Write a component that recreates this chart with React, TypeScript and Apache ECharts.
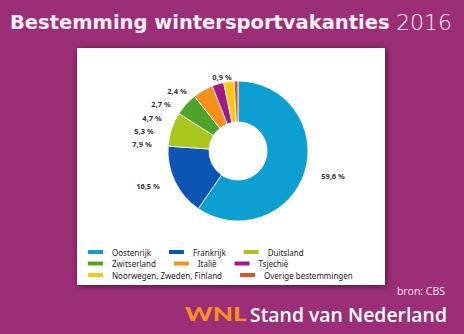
import React, { useEffect, useRef } from "react";
import * as echarts from "echarts";

const categories = [
  "Oostenrijk",
  "Frankrijk",
  "Duitsland",
  "Zwitserland",
  "Italië",
  "Tsjechië",
  "Noorwegen, Zweden, Finland",
  "Overige bestemmingen",
];
const values = [59.6, 16.5, 7.9, 5.3, 4.7, 2.7, 2.4, 0.9];
const colors = [
  "#0d9fd1",
  "#0c55b4",
  "#a9c61c",
  "#4ea32b",
  "#f4911a",
  "#a11a85",
  "#fdc514",
  "#e4521f",
];
const legendRows = [
  ["Oostenrijk", "Frankrijk", "Duitsland"],
  ["Zwitserland", "Italië", "Tsjechië"],
  ["Noorwegen, Zweden, Finland", "Overige bestemmingen"],
];
const titleText = "Bestemming wintersportvakanties";
const titleYear = "2016";
const sourceText = "bron: CBS";
const brandText = "Stand van Nederland";
const logoText = "WNL";

// label anchor points (layout, not data)
const labelAnchors: [number, number][] = [
  [333, 176],
  [148, 186],
  [142, 144],
  [144, 131],
  [152, 118],
  [161, 104],
  [177, 91],
  [222, 77],
];

export default function App() {
  const ref = useRef<HTMLDivElement>(null);
  useEffect(() => {
    if (!ref.current) return;
    const chart = echarts.init(ref.current, undefined, { renderer: "svg" });
    const legendTops = [248, 259.5, 271];
    chart.setOption({
      animation: false,
      backgroundColor: "#9b2e76",
      graphic: [
        {
          type: "rect",
          shape: { x: 77, y: 48, width: 308, height: 237 },
          style: {
            fill: "#ffffff",
            shadowBlur: 6,
            shadowColor: "rgba(0,0,0,0.55)",
            shadowOffsetX: 1,
            shadowOffsetY: 1,
          },
          z: -1,
        },
        {
          type: "text",
          x: 10,
          y: 22,
          style: {
            text: titleText,
            fontFamily: "DejaVu Sans",
            fontWeight: "bold",
            fontSize: 19.5,
            fill: "#f8f0f5",
            verticalAlign: "middle",
          },
        },
        {
          type: "text",
          x: 452,
          y: 22,
          style: {
            text: titleYear,
            fontFamily: "DejaVu Sans",
            fontWeight: 200,
            fontSize: 22,
            fill: "#f8f0f5",
            align: "right",
            verticalAlign: "middle",
          },
        },
        {
          type: "text",
          x: 445,
          y: 291,
          style: {
            text: sourceText,
            fontFamily: "Open Sans",
            fontSize: 10.5,
            fill: "#f3e6ee",
            align: "right",
            verticalAlign: "middle",
          },
        },
        {
          type: "text",
          x: 250,
          y: 314,
          style: {
            text: brandText,
            fontFamily: "Open Sans",
            fontWeight: 600,
            fontSize: 19.4,
            fill: "#ffffff",
            verticalAlign: "middle",
          },
        },
        {
          type: "text",
          x: 185,
          y: 314,
          scaleX: 1.38,
          style: {
            text: logoText,
            fontFamily: "Lato",
            fontWeight: 900,
            fontSize: 19,
            fill: "#f7901c",
            verticalAlign: "middle",
          },
        },
      ],
      color: colors,
      legend: legendRows.map((row, i) => ({
        data: row,
        left: 86,
        top: legendTops[i],
        orient: "horizontal",
        itemWidth: 17,
        itemHeight: 6,
        itemGap: 16,
        padding: 0,
        icon: "rect",
        selectedMode: false,
        textStyle: {
          fontFamily: "Noto Sans",
          fontSize: 8,
          color: "#222222",
          padding: [0, 0, 0, 3],
        },
      })),
      series: [
        {
          type: "pie",
          center: [238, 151],
          radius: [29, 70],
          startAngle: 90,
          clockwise: true,
          itemStyle: { borderColor: "#ffffff", borderWidth: 0.8 },
          label: {
            show: true,
            position: "outside",
            formatter: (p: any) => `${p.value.toFixed(1).replace(".", ",")} %`,
            fontFamily: "Noto Sans",
            fontWeight: "bold",
            fontSize: 7.5,
            color: "#333333",
          },
          labelLine: { show: false },
          labelLayout: (params: any) => {
            const a = labelAnchors[params.dataIndex];
            return {
              x: a[0],
              y: a[1],
              align: "center",
              verticalAlign: "middle",
            };
          },
          data: categories.map((name, i) => ({ name, value: values[i] })),
        },
      ],
    });
    return () => chart.dispose();
  }, []);
  return (
    <div
      ref={ref}
      style={{ position: "fixed", left: 0, top: 0, width: 464, height: 334 }}
    />
  );
}
